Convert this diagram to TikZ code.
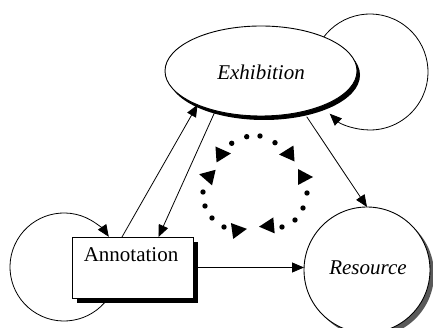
\documentclass[tikz,border=0pt]{standalone}
\usepackage{fontspec}
\setmainfont{Liberation Serif}
\usetikzlibrary{arrows.meta,shapes.geometric}
\begin{document}
\begin{tikzpicture}[x=1pt,y=-1pt,
  every node/.style={inner sep=0pt,outer sep=0pt},
  lbl/.style={font=\fontsize{21}{24}\selectfont},
  thin line/.style={line width=0.8pt},
  link/.style={thin line,-{Triangle[length=12pt,width=10pt]}},
  dotmark/.style={fill=black},
  dtri/.pic={\fill (8,0) -- (-7,-8) -- (-7,8) -- cycle;}
]
\clip (0,0) rectangle (433,328);

% self loops, drawn first so the nodes cover their hidden ends
\coordinate (exhloop) at (370,72);
\coordinate (annloop) at (64,267);
\draw[link] ([shift={(-150:58)}]exhloop) arc[start angle=-150,end angle=134,radius=58];
\draw[link] ([shift={(30:54)}]annloop) arc[start angle=30,end angle=326,radius=54];

% shadows
\fill[black] (264,75) ellipse[x radius=96,y radius=45];
\fill[black!65] (371,274) circle[radius=63];
\fill[black] (77,242) rectangle (198,303);

% nodes
\node[ellipse,draw,fill=white,line width=0.9pt,minimum width=192pt,minimum height=90pt] (exh) at (261,71) {};
\node[lbl,font=\fontsize{21}{24}\selectfont\itshape] (exhtext) at (261,72) {Exhibition};
\node[circle,draw,fill=white,line width=0.9pt,minimum size=126pt] (res) at (367,270) {};
\node[lbl,font=\fontsize{21}{24}\selectfont\itshape] (restext) at (368,268) {Resource};
\node[rectangle,draw,fill=white,line width=0.9pt,minimum width=121pt,minimum height=61pt] (ann) at (132.5,267.5) {};
\node[lbl] (anntext) at (131,255) {Annotation};

% connectors
\draw[link] ([xshift=-10.5pt]ann.north) -- (exh.208);
\draw[link] (exh.221) -- ([xshift=26pt]ann.north);
\draw[link] ([shift={(5,5)}]exh.315) -- (res.north);
\draw[link] (ann.east) -- (ann.east -| res.west);

% dotted cycle in the middle
\foreach \p in {(231.7,143.3),(246.7,136.7),(260,136),(275,142.7),
                (203,192),(205,206),(212,218),(224,227),
                (307,193),(303,208),(295,220),(282,227)}
  \fill[dotmark] \p circle[radius=2.7];
\pic[rotate=4] at (223,154) {dtri};
\pic[rotate=167] at (207,176) {dtri};
\pic[rotate=184] at (287,154) {dtri};
\pic[rotate=0] at (305,177) {dtri};
\pic[rotate=8] at (239,230) {dtri};
\pic[rotate=185] at (267,226) {dtri};
\end{tikzpicture}
\end{document}
